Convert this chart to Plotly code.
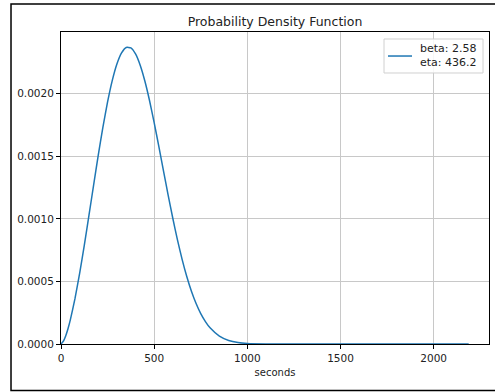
import plotly.graph_objects as go

# Weibull fit parameters shown in the legend
beta = 2.58
eta = 436.2

# Probability density sampled along the time axis (seconds)
seconds = [0, 12.5, 25, 37.5, 50, 75, 100, 125, 150, 175, 200, 225, 250, 275,
           300, 325, 350, 375, 400, 425, 450, 475, 500, 525, 550, 575, 600,
           625, 650, 675, 700, 725, 750, 775, 800, 850, 900, 950, 1000, 1100,
           1200, 1400, 1600, 1800, 2000, 2188]
density = [0.0, 0.0000218, 0.0000645, 0.0001219, 0.0001923, 0.0003624,
           0.0005643, 0.0007892, 0.0010275, 0.0012707, 0.0015094, 0.0017336,
           0.0019350, 0.0021051, 0.0022374, 0.0023266, 0.0023702, 0.0023670,
           0.0023183, 0.0022284, 0.0021022, 0.0019467, 0.0017698, 0.0015796,
           0.0013842, 0.0011906, 0.0010050, 0.0008323, 0.0006765, 0.0005393,
           0.0004217, 0.0003235, 0.0002431, 0.0001794, 0.0001293, 0.0000633,
           0.0000285, 0.0000118, 0.0000044, 0.0000005, 0.0, 0.0, 0.0, 0.0,
           0.0, 0.0]

x_ticks = [0, 500, 1000, 1500, 2000]
y_ticks = [0.0, 0.0005, 0.0010, 0.0015, 0.0020]

FONT = "DejaVu Sans"
TEXT = "#222222"
BLUE = "#1f77b4"

fig = go.Figure()
fig.add_trace(go.Scatter(
    x=seconds, y=density, mode="lines",
    line=dict(color=BLUE, width=1.5, shape="spline", smoothing=0.5),
    showlegend=False, hoverinfo="x+y",
))

axis_common = dict(
    showline=True, linecolor="black", linewidth=1, mirror=True,
    showgrid=True, gridcolor="#c8c8c8", gridwidth=1,
    ticks="outside", ticklen=4, tickcolor="black", tickwidth=1,
    zeroline=False,
    tickfont=dict(family=FONT, size=10.5, color=TEXT),
)

fig.update_xaxes(
    range=[0, 2297], tickvals=x_ticks, ticktext=[str(v) for v in x_ticks],
    title=dict(text="seconds", font=dict(family=FONT, size=10, color=TEXT),
               standoff=6),
    **axis_common,
)
fig.update_yaxes(
    range=[0, 0.002494], tickvals=y_ticks, tickformat=".4f",
    **axis_common,
)

shapes = [
    # outer frame around the figure
    dict(type="rect", xref="paper", yref="paper",
         x0=-0.1168, x1=1.03, y0=-0.149, y1=1.0897,
         line=dict(color="black", width=1.5), fillcolor="rgba(0,0,0,0)",
         layer="below"),
    # legend box
    dict(type="rect", xref="paper", yref="paper",
         x0=0.7547, x1=0.986, y0=0.8686, y1=0.9776,
         line=dict(color="#d0d0d0", width=1), fillcolor="rgba(255,255,255,0.85)"),
    # legend line sample
    dict(type="line", xref="paper", yref="paper",
         x0=0.7640, x1=0.8201, y0=0.923, y1=0.923,
         line=dict(color=BLUE, width=1.5)),
]

annotations = [
    dict(text=f"beta: {beta}<br>eta: {eta}", xref="paper", yref="paper",
         x=0.9755, y=0.9235, xanchor="right", yanchor="middle", align="right",
         showarrow=False, font=dict(family=FONT, size=11, color=TEXT)),
]

fig.update_layout(
    width=495, height=392,
    margin=dict(l=61, r=6, t=32, b=48),
    paper_bgcolor="white", plot_bgcolor="white",
    title=dict(text="Probability Density Function", x=0.5, xref="paper",
               xanchor="center", y=1 - 22 / 392, yanchor="middle",
               font=dict(family=FONT, size=12.5, color=TEXT)),
    shapes=shapes, annotations=annotations,
)

fig.write_html("out.html")
